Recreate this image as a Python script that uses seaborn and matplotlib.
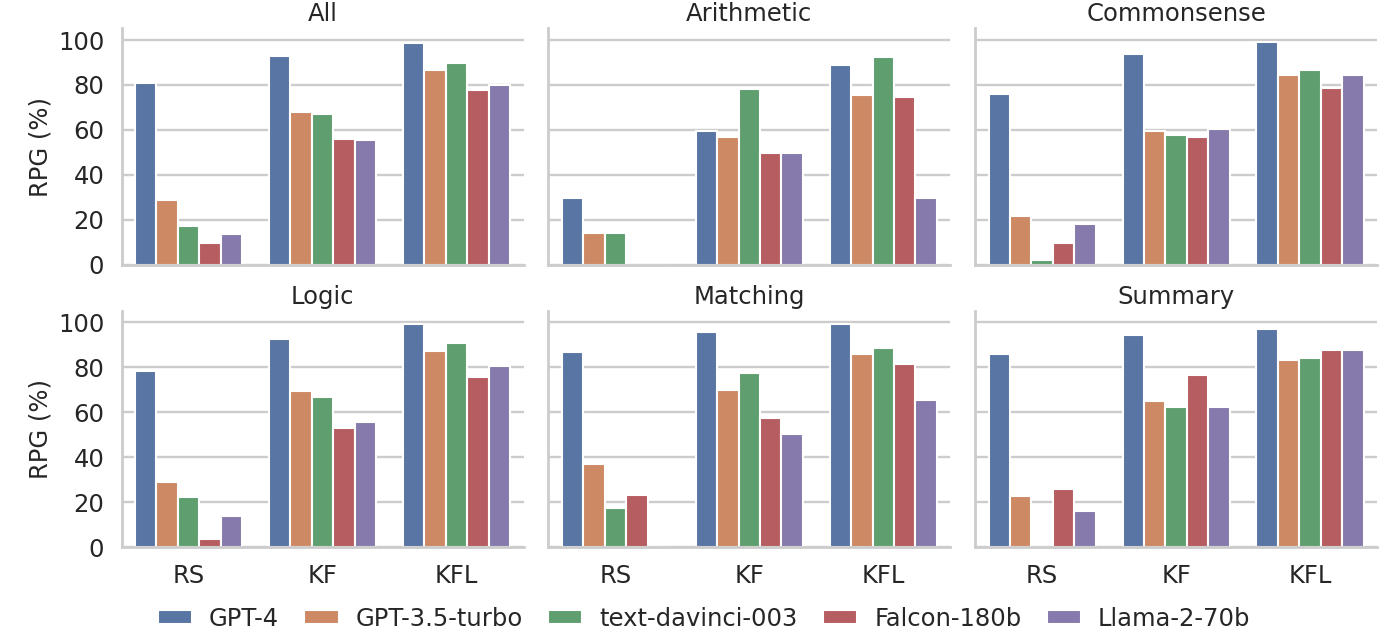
import numpy as np
import pandas as pd
import matplotlib
matplotlib.use("Agg")
import matplotlib.pyplot as plt
import seaborn as sns

methods = ["RS", "KF", "KFL"]
models = ["GPT-4", "GPT-3.5-turbo", "text-davinci-003", "Falcon-180b", "Llama-2-70b"]
tasks = ["All", "Arithmetic", "Commonsense", "Logic", "Matching", "Summary"]

# values per task: rows = methods (RS, KF, KFL), columns = models
all_vals = [[81.0, 29.0, 17.0, 9.5, 13.5],
            [93.0, 68.0, 67.0, 56.0, 55.5],
            [98.7, 86.5, 89.6, 77.6, 79.8]]
arith_vals = [[29.5, 14.0, 14.0, 0.0, 0.0],
              [59.5, 57.0, 78.0, 49.5, 49.5],
              [89.0, 75.5, 92.3, 74.5, 29.5]]
common_vals = [[76.0, 21.5, 2.0, 9.5, 18.0],
               [94.0, 59.5, 57.7, 56.8, 60.3],
               [99.0, 84.3, 86.5, 78.5, 84.3]]
logic_vals = [[78.3, 29.0, 22.3, 3.5, 13.8],
              [92.5, 69.3, 67.0, 52.8, 55.5],
              [99.3, 87.2, 90.7, 75.5, 80.5]]
match_vals = [[86.7, 37.0, 17.5, 23.0, 0.0],
              [95.7, 69.7, 77.3, 57.3, 50.5],
              [99.3, 85.8, 88.5, 81.3, 65.3]]
summ_vals = [[85.8, 22.7, 0.0, 25.8, 16.0],
             [94.3, 64.8, 62.2, 76.4, 62.5],
             [97.0, 83.3, 84.2, 87.8, 87.8]]

task_values = dict(zip(tasks, [all_vals, arith_vals, common_vals,
                               logic_vals, match_vals, summ_vals]))

rows = []
for t in tasks:
    for mi, m in enumerate(methods):
        for ki, k in enumerate(models):
            rows.append({"task": t, "method": m, "model": k,
                         "RPG": task_values[t][mi][ki]})
df = pd.DataFrame(rows)

sns.set_theme(style="whitegrid", context="talk")
plt.rcParams["font.family"] = ["DejaVu Sans"]
plt.rcParams["grid.linewidth"] = 1.7
plt.rcParams["axes.linewidth"] = 2.0

FS = 17.5

fig, axes = plt.subplots(2, 3, figsize=(14, 6.3), dpi=100, sharex=True, sharey=True)
fig.subplots_adjust(left=0.0869, right=0.9836, top=0.955, bottom=0.1317,
                    wspace=0.062, hspace=0.195)

for ax, t in zip(axes.flat, tasks):
    sub = df[df["task"] == t]
    sns.barplot(data=sub, x="method", y="RPG", hue="model", order=methods,
                hue_order=models, palette="deep", ax=ax, errorbar=None)
    ax.set_title(t, fontsize=FS, pad=5)
    ax.set_xlabel("")
    ax.set_ylabel("")
    ax.set_ylim(0, 105.2)
    ax.set_yticks([0, 20, 40, 60, 80, 100])
    ax.tick_params(labelsize=FS)
    sns.despine(ax=ax)
    leg = ax.get_legend()
    if leg is not None:
        leg.remove()

for ax in axes[:, 0]:
    ax.set_ylabel("RPG (%)", fontsize=FS)

handles, labels = axes[0, 0].get_legend_handles_labels()
fig.legend(handles, labels, loc="center", bbox_to_anchor=(0.503, 0.018),
           ncol=5, frameon=False, fontsize=FS, handlelength=1.4,
           handleheight=0.55, handletextpad=0.7, columnspacing=1.05)

fig.savefig("out.png", dpi=100)
